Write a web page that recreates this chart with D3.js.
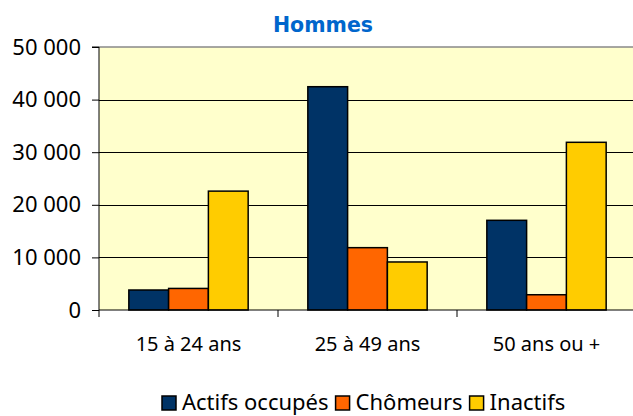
<!DOCTYPE html>
<html><head><meta charset="utf-8">
<script src="https://cdn.jsdelivr.net/npm/d3@7"></script>
<style>body{margin:0;background:#fff}svg{display:block}</style>
</head><body>
<svg id="c" width="633" height="416"></svg>
<script>
const categories = ["15 à 24 ans", "25 à 49 ans", "50 ans ou +"];
const seriesNames = ["Actifs occupés", "Chômeurs", "Inactifs"];
const actifsOccupes = [3800, 42450, 17050];
const chomeurs = [4100, 11850, 2900];
const inactifs = [22600, 9130, 31880];
const yTicks = [0, 10000, 20000, 30000, 40000, 50000];
const colors = ["#003366", "#FF6600", "#FFCC00"];
const seriesValues = [actifsOccupes, chomeurs, inactifs];

(function () {
const svg = d3.select("#c");
const font = "'Noto Sans', sans-serif";
const pLeft = 99, pRight = 636, pTop = 47, pBottom = 310;

const x = d3.scaleBand().domain(categories).range([pLeft, pRight]).padding(0);
const xs = d3.scaleBand().domain(seriesNames).range([x.bandwidth()/6, x.bandwidth()*5/6]).padding(0);
const y = d3.scaleLinear().domain([0, 50000]).range([pBottom, pTop]);

svg.append("rect").attr("x", pLeft).attr("y", pTop).attr("width", pRight-pLeft).attr("height", pBottom-pTop).attr("fill", "#FFFFCC");

svg.append("g").selectAll("line").data(yTicks.filter(d => d > 0 && d < 50000)).join("line")
  .attr("x1", pLeft).attr("x2", pRight).attr("y1", d => Math.round(y(d)) + 0.5).attr("y2", d => Math.round(y(d)) + 0.5)
  .attr("stroke", "#000").attr("stroke-width", 1);
svg.append("line").attr("x1", pLeft).attr("x2", pRight).attr("y1", y(50000)).attr("y2", y(50000))
  .attr("stroke", "#888").attr("stroke-width", 1.5);

const rows = categories.map((c, i) => seriesNames.map((s, j) => ({c, s, v: seriesValues[j][i], color: colors[j]})));
svg.append("g").selectAll("g").data(rows).join("g")
  .attr("transform", d => `translate(${x(d[0].c)},0)`)
  .selectAll("rect").data(d => d).join("rect")
  .attr("x", d => xs(d.s)).attr("width", xs.bandwidth())
  .attr("y", d => y(d.v)).attr("height", d => y(0) - y(d.v))
  .attr("fill", d => d.color).attr("stroke", "#000").attr("stroke-width", 1.5);

const yAxis = d3.axisLeft(y).tickValues(yTicks).tickSize(7).tickPadding(11)
  .tickFormat(d => d3.format(",")(d).replace(/,/g, " "));
const gy = svg.append("g").attr("transform", `translate(${pLeft},0)`).call(yAxis);
gy.select(".domain").attr("stroke", "#000").attr("d", `M-7,${pTop}H0V${pBottom}`);
gy.selectAll("text").attr("font-family", font).attr("font-size", 22).attr("fill", "#000");

const xAxis = d3.axisBottom(x).tickSize(0).tickPadding(27);
const gx = svg.append("g").attr("transform", `translate(0,${pBottom})`).call(xAxis);
gx.select(".domain").attr("stroke", "#000").attr("d", `M${pLeft},0H${pRight}`);
gx.selectAll("text").attr("font-family", font).attr("font-size", 20).attr("fill", "#000");
svg.append("g").selectAll("line").data(categories).join("line")
  .attr("x1", d => x(d)).attr("x2", d => x(d)).attr("y1", pBottom).attr("y2", pBottom + 7)
  .attr("stroke", "#000");

svg.append("text").attr("x", 323).attr("y", 32).attr("text-anchor", "middle")
  .attr("font-family", "'DejaVu Sans', sans-serif").attr("font-weight", "bold").attr("font-size", 20.5)
  .attr("fill", "#0066CC").text("Hommes");

const lg = svg.append("g");
let lx = 162;
seriesNames.forEach((s, j) => {
  lg.append("rect").attr("x", lx).attr("y", 396).attr("width", 14).attr("height", 14)
    .attr("fill", colors[j]).attr("stroke", "#000").attr("stroke-width", 1.5);
  const t = lg.append("text").attr("x", lx + 20).attr("y", 410)
    .attr("font-family", font).attr("font-size", 22).attr("fill", "#000").text(s);
  lx += 20 + t.node().getComputedTextLength() + 7;
});
})();
</script>
</body></html>
